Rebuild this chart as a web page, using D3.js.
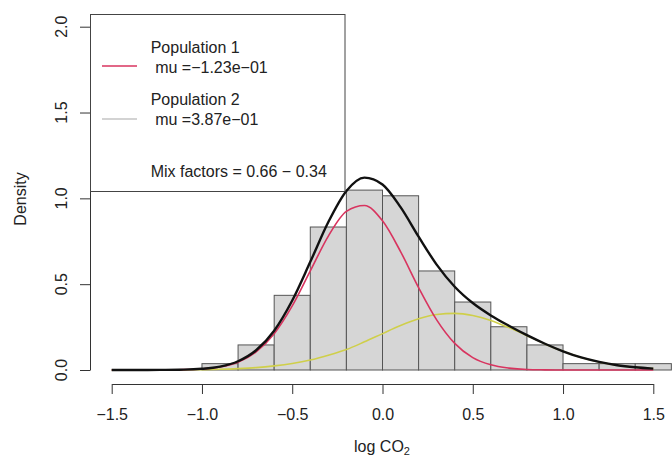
<html>
<head>
<meta charset="utf-8">
<title>Mixture of two normals - log CO2</title>
<style type="text/css">
  body { margin: 0; background: #fff; }
  svg text { font-family: "Liberation Sans", Arial, Helvetica, sans-serif; fill: #222; white-space: pre; }
</style>
<script src="https://d3js.org/d3.v7.min.js"></script>
</head>
<body>
<svg width="672" height="459"></svg>
<script>
// histogram (density scale, bin width 0.2)
var binEdges = [-1.0, -0.8, -0.6, -0.4, -0.2, 0.0, 0.2, 0.4, 0.6, 0.8, 1.0, 1.2, 1.4, 1.6];
var binDensity = [0.037, 0.146, 0.435, 0.833, 1.048, 1.015, 0.577, 0.396, 0.252, 0.146, 0.037, 0.037, 0.037];

// fitted curves read at steps of 0.1
var gridX = [-1.5, -1.4, -1.3, -1.2, -1.1, -1.0, -0.9, -0.8, -0.7, -0.6, -0.5, -0.4, -0.3, -0.2, -0.1, 0.0,
             0.1, 0.2, 0.3, 0.4, 0.5, 0.6, 0.7, 0.8, 0.9, 1.0, 1.1, 1.2, 1.3, 1.4, 1.5];
var mixDensity = [0, 0, 0, 0.001, 0.002, 0.007, 0.020, 0.051, 0.115, 0.229, 0.405, 0.630, 0.862, 1.043, 1.121, 1.081,
                  0.949, 0.777, 0.614, 0.485, 0.390, 0.318, 0.258, 0.203, 0.153, 0.109, 0.073, 0.047, 0.028, 0.016, 0.008];
var pop1Density = [0, 0, 0, 0, 0.002, 0.006, 0.017, 0.045, 0.105, 0.211, 0.373, 0.577, 0.780, 0.924, 0.958, 0.869,
                   0.690, 0.480, 0.292, 0.155, 0.072, 0.030, 0.011, 0.003, 0.001, 0, 0, 0, 0, 0, 0];
var pop2Density = [0, 0, 0, 0, 0.001, 0.002, 0.004, 0.008, 0.014, 0.024, 0.038, 0.058, 0.086, 0.119, 0.164, 0.212,
                   0.259, 0.298, 0.323, 0.330, 0.318, 0.289, 0.247, 0.200, 0.152, 0.109, 0.073, 0.047, 0.028, 0.016, 0.008];

var xTicks = [-1.5, -1.0, -0.5, 0.0, 0.5, 1.0, 1.5];
var yTicks = [0.0, 0.5, 1.0, 1.5, 2.0];

var legendLines = [
  {text: "Population 1", color: "#d8345f", key: true},
  {text: " mu =\u22121.23e\u221201", color: null},
  {text: "Population 2", color: "#c4c4c4", key: true},
  {text: " mu =3.87e\u221201", color: null},
  {text: "Mix factors = 0.66 \u2212 0.34", color: null}
];

var svg = d3.select("svg"),
    fontSize = 16;

var x = d3.scaleLinear().domain([-1.5, 1.5]).range([111.7, 653.3]);
var y = d3.scaleLinear().domain([0, 2]).range([370, 26.7]);
var fmt = function(d){ return d3.format(".1f")(d).replace("-", "\u2212"); };

// bars
svg.append("g").selectAll("rect")
  .data(binDensity)
  .enter().append("rect")
  .attr("x", (d, i) => x(binEdges[i]))
  .attr("width", (d, i) => x(binEdges[i + 1]) - x(binEdges[i]))
  .attr("y", d => y(d))
  .attr("height", d => y(0) - y(d))
  .attr("fill", "#d6d6d6")
  .attr("stroke", "#555")
  .attr("stroke-width", 1);

// curves
var line = d3.line()
  .x((d, i) => x(gridX[i]))
  .y(d => y(d))
  .curve(d3.curveMonotoneX);

svg.append("path").attr("d", line(pop2Density))
  .attr("fill", "none").attr("stroke", "#cfcf4a").attr("stroke-width", 1.6);
svg.append("path").attr("d", line(pop1Density))
  .attr("fill", "none").attr("stroke", "#d8345f").attr("stroke-width", 1.6);
svg.append("path").attr("d", line(mixDensity))
  .attr("fill", "none").attr("stroke", "#111").attr("stroke-width", 2.4);

// x axis
var xAxis = svg.append("g")
  .attr("transform", "translate(0,384)")
  .call(d3.axisBottom(x).tickValues(xTicks).tickFormat(fmt).tickSize(10).tickSizeOuter(0).tickPadding(15));
xAxis.select(".domain").attr("stroke", "#333");
xAxis.selectAll(".tick line").attr("stroke", "#333");
xAxis.selectAll(".tick text")
  .style("font-size", fontSize + "px")
  .style("font-family", "'Liberation Sans', Arial, sans-serif")
  .attr("fill", "#222");

// y axis
var yAxis = svg.append("g")
  .attr("transform", "translate(90,0)")
  .call(d3.axisLeft(y).tickValues(yTicks).tickSize(10).tickSizeOuter(0).tickFormat(""));
yAxis.select(".domain").attr("stroke", "#333");
yAxis.selectAll(".tick line").attr("stroke", "#333");

svg.append("g").selectAll("text")
  .data(yTicks)
  .enter().append("text")
  .attr("transform", d => `translate(67,${y(d)}) rotate(-90)`)
  .attr("text-anchor", "middle")
  .style("font-size", fontSize + "px")
  .text(fmt);

// axis titles
svg.append("text")
  .attr("transform", "translate(26,199) rotate(-90)")
  .attr("text-anchor", "middle")
  .style("font-size", fontSize + "px")
  .text("Density");

var xt = svg.append("text")
  .attr("x", 382).attr("y", 452)
  .attr("text-anchor", "middle")
  .style("font-size", fontSize + "px");
xt.append("tspan").text("log CO");
xt.append("tspan").attr("dy", 3).style("font-size", "11px").text("2");

// legend
var lg = svg.append("g");
lg.append("rect")
  .attr("x", 90.5).attr("y", 14.5)
  .attr("width", 254.5).attr("height", 177)
  .attr("fill", "#fff").attr("stroke", "#444").attr("stroke-width", 1);

var legendY = [53, 72.7, 105, 125, 176.7];
lg.selectAll("text")
  .data(legendLines)
  .enter().append("text")
  .attr("x", 150.7)
  .attr("y", (d, i) => legendY[i])
  .style("font-size", fontSize + "px")
  .text(d => d.text);

lg.selectAll("line")
  .data(legendLines.filter(d => d.key))
  .enter().append("line")
  .attr("x1", 102).attr("x2", 137)
  .attr("y1", (d, i) => [66, 119][i]).attr("y2", (d, i) => [66, 119][i])
  .attr("stroke", d => d.color)
  .attr("stroke-width", 1.6);
</script>
</body>
</html>
